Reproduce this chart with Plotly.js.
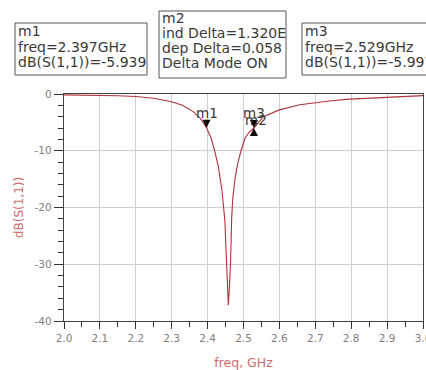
<!DOCTYPE html>
<html>
<head>
<meta charset="utf-8">
<script src="https://cdn.plot.ly/plotly-3.0.1.min.js"></script>
<style>
html,body{margin:0;padding:0;background:#fff;overflow:hidden;}
#chart{width:426px;height:370px;}
</style>
</head>
<body>
<div id="chart"></div>
<script>
// S11 response
const freqGHz = [2.0, 2.05, 2.1, 2.15, 2.2, 2.25, 2.3, 2.33, 2.36, 2.38, 2.397, 2.41, 2.42, 2.43, 2.44, 2.448, 2.453, 2.456, 2.4577, 2.46, 2.462, 2.464, 2.467, 2.47, 2.476, 2.483, 2.493, 2.504, 2.515, 2.529, 2.555, 2.6, 2.657, 2.704, 2.75, 2.797, 2.85, 2.89, 2.95, 3.0];
const s11dB   = [-0.15, -0.18, -0.22, -0.3, -0.45, -0.75, -1.35, -2.0, -3.1, -4.3, -5.939, -7.8, -10.1, -12.8, -17.0, -22.2, -30.0, -34.5, -37.2, -35.0, -33.0, -29.5, -22.0, -18.5, -15.1, -12.5, -10.0, -7.8, -6.8, -5.997, -4.0, -2.8, -1.9, -1.5, -1.15, -0.9, -0.72, -0.6, -0.42, -0.28];

// markers
const markerNames = ['m1', 'm3', 'm2'];
const markerFreq  = [2.397, 2.529, 2.529];
const markerDb    = [-5.939, -5.997, -5.997];
const markerSymbol = ['arrow-down', 'arrow-down', 'arrow-up'];

// marker readout boxes
const box1Lines = ['m1', 'freq=2.397GHz', 'dB(S(1,1))=-5.939'];
const box2Lines = ['m2', 'ind Delta=1.320E', 'dep Delta=0.058', 'Delta Mode ON'];
const box3Lines = ['m3', 'freq=2.529GHz', 'dB(S(1,1))=-5.997'];

const xTickVals = [2.0, 2.1, 2.2, 2.3, 2.4, 2.5, 2.6, 2.7, 2.8, 2.9, 3.0];
const xTickText = ['2.0', '2.1', '2.2', '2.3', '2.4', '2.5', '2.6', '2.7', '2.8', '2.9', '3.0'];
const yTickVals = [0, -10, -20, -30, -40];
const yTickText = ['0', '-10', '-20', '-30', '-40'];

// layout geometry (pixels)
const W = 426, H = 370, L = 64, R = 3, T = 94, B = 49;
const pw = W - L - R, ph = H - T - B;
const px2x = p => (p - L) / pw;
const py2y = p => (H - B - p) / ph;

const FONT = 'DejaVu Sans';
const textColor = '#3a3a3a';

const traces = [
  {
    x: freqGHz, y: s11dB, type: 'scatter', mode: 'lines',
    line: {color: '#b0343a', width: 1.1},
    hoverinfo: 'skip', showlegend: false
  },
  {
    x: markerFreq, y: markerDb, type: 'scatter', mode: 'markers',
    marker: {symbol: markerSymbol, size: 8, color: '#000', line: {width: 0}},
    hoverinfo: 'skip', showlegend: false, cliponaxis: false
  }
];

const annotations = [];
// marker labels
const labelShift = {m1: [0, 15], m3: [0, 15], m2: [2, 8]};
markerNames.forEach((n, i) => {
  annotations.push({
    x: markerFreq[i], y: markerDb[i], xref: 'x', yref: 'y',
    text: n, showarrow: false, xanchor: 'center', yanchor: 'middle',
    xshift: labelShift[n][0], yshift: labelShift[n][1],
    font: {family: FONT, size: 13.5, color: textColor}
  });
});

function addBox(lines, textLeftPx, firstCenterPx, spacing) {
  lines.forEach((t, i) => {
    annotations.push({
      xref: 'paper', yref: 'paper',
      x: px2x(textLeftPx), y: py2y(firstCenterPx + i * spacing),
      text: t, showarrow: false, xanchor: 'left', yanchor: 'middle',
      borderpad: 0,
      font: {family: FONT, size: 14, color: textColor}
    });
  });
}
addBox(box1Lines, 17, 31, 15.7);
addBox(box2Lines, 161, 18, 15);
addBox(box3Lines, 304, 31, 15.7);

const boxLine = {color: '#555', width: 1};
const shapes = [
  {type: 'rect', xref: 'paper', yref: 'paper', x0: px2x(15), x1: px2x(147), y0: py2y(75), y1: py2y(23), line: boxLine, fillcolor: 'rgba(0,0,0,0)'},
  {type: 'rect', xref: 'paper', yref: 'paper', x0: px2x(159), x1: px2x(286), y0: py2y(78), y1: py2y(11), line: boxLine, fillcolor: 'rgba(0,0,0,0)'},
  {type: 'rect', xref: 'paper', yref: 'paper', x0: px2x(302), x1: px2x(470), y0: py2y(75), y1: py2y(23), line: boxLine, fillcolor: 'rgba(0,0,0,0)'}
];

const layout = {
  width: W, height: H,
  margin: {l: L, r: R, t: T, b: B, pad: 0},
  paper_bgcolor: '#fff', plot_bgcolor: '#fff',
  font: {family: FONT},
  showlegend: false,
  xaxis: {
    range: [2.0, 3.0], tickmode: 'array', tickvals: xTickVals, ticktext: xTickText,
    ticks: 'outside', ticklen: 7, tickwidth: 1, tickcolor: '#333',
    ticklabeloverflow: 'allow',
    minor: {dtick: 0.05, ticks: 'outside', ticklen: 5, tickcolor: '#333', showgrid: false},
    showgrid: true, gridcolor: '#cfcfcf', gridwidth: 1,
    showline: true, linecolor: '#444', linewidth: 1.2, mirror: true,
    zeroline: false,
    tickfont: {family: FONT, size: 10.5, color: '#808080'},
    title: {text: 'freq, GHz', font: {family: FONT, size: 12.5, color: '#d06a6a'}, standoff: 15}
  },
  yaxis: {
    range: [-40, 0], tickmode: 'array', tickvals: yTickVals, ticktext: yTickText,
    ticks: 'outside', ticklen: 9, tickwidth: 1, tickcolor: '#333',
    minor: {dtick: 2, ticks: 'outside', ticklen: 5, tickcolor: '#333', showgrid: false},
    showgrid: true, gridcolor: '#cfcfcf', gridwidth: 1,
    showline: true, linecolor: '#444', linewidth: 1.2, mirror: true,
    zeroline: false,
    tickfont: {family: FONT, size: 10.5, color: '#808080'},
    title: {text: 'dB(S(1,1))', font: {family: FONT, size: 12, color: '#d06a6a'}, standoff: 8}
  },
  annotations: annotations,
  shapes: shapes
};

Plotly.newPlot('chart', traces, layout, {staticPlot: true, displayModeBar: false});
</script>
</body>
</html>
